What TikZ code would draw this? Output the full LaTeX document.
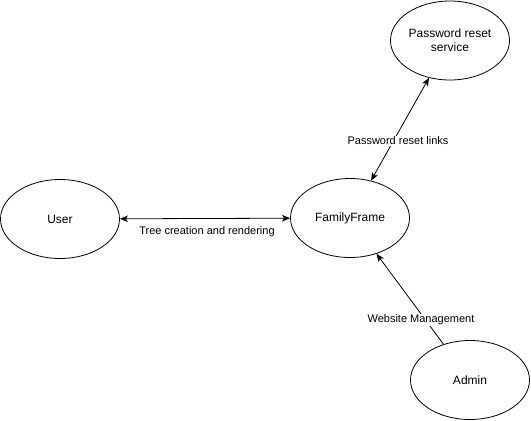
\documentclass[tikz,border=0pt]{standalone}
\usepackage{fontspec}
\setmainfont{Liberation Sans}
\usetikzlibrary{arrows.meta,shapes.geometric}
\begin{document}
\begin{tikzpicture}[x=1pt,y=-1pt,
  ent/.style={draw, ellipse, minimum width=119pt, minimum height=79pt, inner sep=0pt, line width=0.8pt, font=\fontsize{12}{14}\selectfont, align=center},
  conn/.style={line width=0.8pt, >={Stealth[length=8pt,width=6.5pt,inset=2pt]}},
  lbl/.style={font=\fontsize{11}{13}\selectfont, fill=white, inner sep=1pt}]
\useasboundingbox (0,0) rectangle (531,421);
\node[ent] (user) at (60,219) {User};
\node[ent] (ff) at (350,218) {FamilyFrame};
\node[ent] (prs) at (450,40.5) {Password reset\\service};
\node[ent] (admin) at (470,380) {Admin};
\draw[conn,<->] (user) -- (ff);
\draw[conn,<->] (ff) -- (prs);
\draw[conn,->] (admin) -- (ff);
\node[lbl] (l1) at (207,232) {Tree creation and rendering};
\node[lbl] (l2) at (398,141) {Password reset links};
\node[lbl] (l3) at (421,320) {Website Management};
\end{tikzpicture}
\end{document}
